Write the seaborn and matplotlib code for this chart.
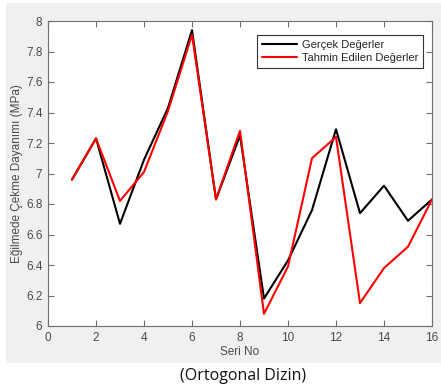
import matplotlib
matplotlib.use("Agg")
import matplotlib.pyplot as plt
from matplotlib.patches import Rectangle
import pandas as pd
import seaborn as sns

# Series number and measured / predicted flexural strength (MPa)
seri_no = [1, 2, 3, 4, 5, 6, 7, 8, 9, 10, 11, 12, 13, 14, 15, 16]
gercek = [6.96, 7.23, 6.67, 7.09, 7.43, 7.94, 6.83, 7.25, 6.18, 6.43, 6.76, 7.29, 6.74, 6.92, 6.69, 6.83]
tahmin = [6.96, 7.23, 6.82, 7.01, 7.41, 7.91, 6.83, 7.28, 6.08, 6.39, 7.10, 7.24, 6.15, 6.38, 6.52, 6.83]
series_names = ["Gerçek Değerler", "Tahmin Edilen Değerler"]
x_ticks = [0, 2, 4, 6, 8, 10, 12, 14, 16]
y_ticks = [6, 6.2, 6.4, 6.6, 6.8, 7, 7.2, 7.4, 7.6, 7.8, 8]
y_tick_labels = ["6", "6.2", "6.4", "6.6", "6.8", "7", "7.2", "7.4", "7.6", "7.8", "8"]

df = pd.DataFrame({
    "Seri No": seri_no * 2,
    "Değer": gercek + tahmin,
    "Seri": [series_names[0]] * len(seri_no) + [series_names[1]] * len(seri_no),
})

sns.set_theme(style="white")
plt.rcParams["font.family"] = ["Liberation Sans", "DejaVu Sans"]

fig = plt.figure(figsize=(4.41, 3.88), dpi=100)
fig.patch.set_facecolor("white")
# light grey figure panel behind the axes
fig.add_artist(Rectangle((6 / 441, 25 / 388), 1 - 6 / 441, (363 - 3) / 388,
                         transform=fig.transFigure, facecolor="#f0f0f0",
                         edgecolor="none", zorder=0))

ax = fig.add_axes([48 / 441, 62 / 388, 384 / 441, 305 / 388])
ax.set_facecolor("white")

sns.lineplot(data=df, x="Seri No", y="Değer", hue="Seri",
             palette={series_names[0]: "#000000", series_names[1]: "#ff0000"},
             linewidth=1.5, ax=ax, legend=True)

ax.set_xlim(0, 16)
ax.set_ylim(6, 8)
ax.set_xticks(x_ticks)
ax.set_xticklabels([str(t) for t in x_ticks])
ax.set_yticks(y_ticks)
ax.set_yticklabels(y_tick_labels)

axis_grey = "#262626"
label_grey = "#4a4a4a"
for side in ["left", "right", "top", "bottom"]:
    ax.spines[side].set_visible(True)
    ax.spines[side].set_color("#6e6e6e")
    ax.spines[side].set_linewidth(0.8)
ax.tick_params(axis="both", which="both", direction="in", length=4, width=0.8,
               color="#6e6e6e", top=True, right=True, bottom=True, left=True,
               labelsize=8.5, labelcolor=label_grey, pad=4)

ax.set_xlabel("Seri No", fontsize=8.5, color=label_grey, labelpad=2)
ax.set_ylabel("Eğilmede Çekme Dayanımı (MPa)", fontsize=8.5, color=label_grey, labelpad=2)

leg = ax.legend(loc="upper right", bbox_to_anchor=(0.985, 0.965), fontsize=8,
                frameon=True, fancybox=False, framealpha=1, edgecolor="#333333",
                handlelength=3.2, handletextpad=0.4, borderpad=0.45, labelspacing=0.25,
                borderaxespad=0.3)
leg.get_frame().set_linewidth(0.8)
for t in leg.get_texts():
    t.set_color(axis_grey)

fig.text(243 / 441, 1 - 376 / 388, "(Ortogonal Dizin)", ha="center", va="center",
         fontsize=11.5, color="#111111", family=["Open Sans", "DejaVu Sans"])

fig.savefig("out.png", dpi=100)
